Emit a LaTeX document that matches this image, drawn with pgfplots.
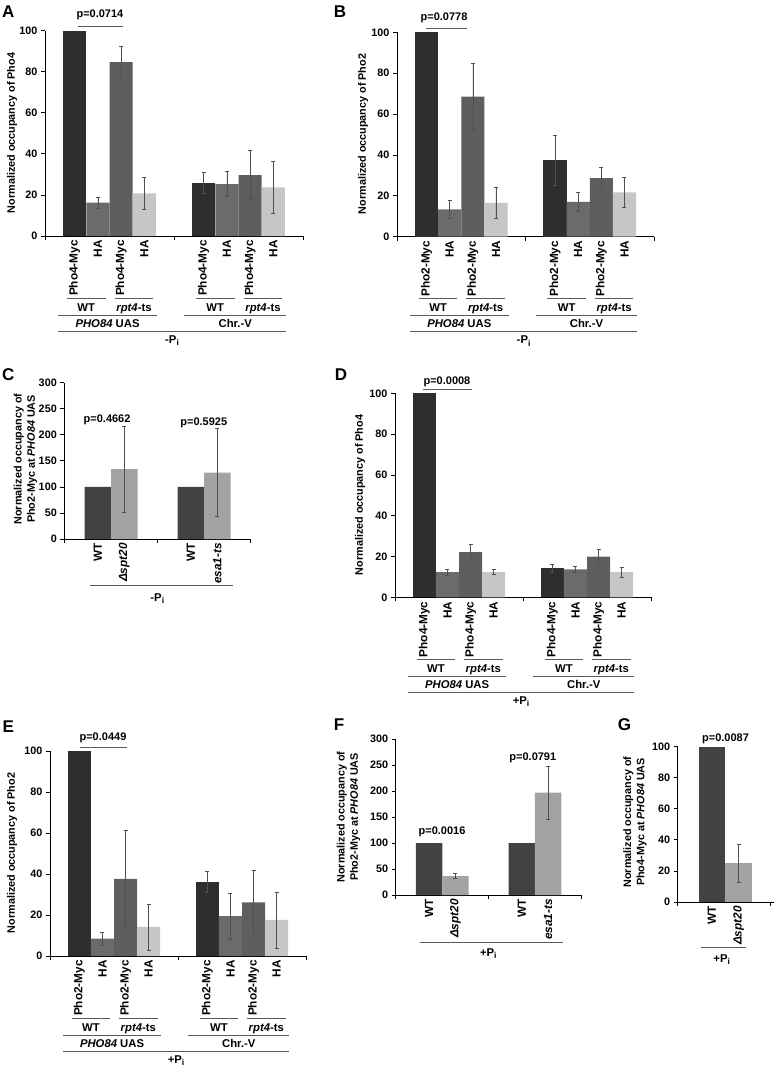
\documentclass[border=0pt]{standalone}
\usepackage{fontspec}
\setmainfont{Liberation Sans}
\usepackage{pgfplots}
\pgfplotsset{compat=1.18}

\definecolor{cdark}{HTML}{2E2E2E}
\definecolor{cmid}{HTML}{6B6B6B}
\definecolor{cmd}{HTML}{5E5E5E}
\definecolor{clight}{HTML}{C6C6C6}
\definecolor{cwt}{HTML}{424242}
\definecolor{cmut}{HTML}{A3A3A3}
\definecolor{errc}{HTML}{505050}
\definecolor{annc}{HTML}{5A5A5A}

\newcommand{\tickf}{\fontsize{10.8}{12}\selectfont\bfseries}
\newcommand{\labf}{\fontsize{10.8}{13.3}\selectfont\bfseries}
\newcommand{\catf}{\fontsize{11.8}{12}\selectfont\bfseries}
\newcommand{\grpf}{\fontsize{11.3}{12}\selectfont\bfseries}
\newcommand{\pf}{\fontsize{11}{12}\selectfont\bfseries}
\newcommand{\letf}{\fontsize{17}{18}\selectfont\bfseries}
\newcommand{\Pcond}[1]{#1P\raisebox{-0.45ex}{\fontsize{8.5}{9}\selectfont i}}

\newcommand{\catlab}[2]{\node[rotate=90,anchor=east,inner sep=0pt,font=\catf] at ([yshift=-4pt]axis cs:#1,0) {#2};}
\newcommand{\hl}[3]{\draw[annot] ([yshift=-#3pt]axis cs:#1,0) -- ([yshift=-#3pt]axis cs:#2,0);}
\newcommand{\tl}[3]{\node[font=\grpf,inner sep=0pt,anchor=base] at ([yshift=-#2pt-4pt]axis cs:#1,0) {#3};}

\newcommand{\eightlabels}[2]{%
 \catlab{0.23}{#1-Myc}\catlab{0.41}{HA}\catlab{0.59}{#1-Myc}\catlab{0.77}{HA}%
 \catlab{1.23}{#1-Myc}\catlab{1.41}{HA}\catlab{1.59}{#1-Myc}\catlab{1.77}{HA}%
 \hl{0.17}{0.47}{62}\hl{0.54}{0.84}{62}\hl{1.17}{1.47}{62}\hl{1.54}{1.84}{62}%
 \tl{0.32}{71}{WT}\tl{0.69}{71}{\textit{rpt4}-ts}\tl{1.32}{71}{WT}\tl{1.69}{71}{\textit{rpt4}-ts}%
 \hl{0.10}{0.87}{79}\hl{1.08}{1.87}{79}%
 \tl{0.485}{87}{\textit{PHO84} UAS}\tl{1.475}{87}{Chr.-V}%
 \hl{0.10}{1.87}{95}%
 \tl{0.985}{103}{\Pcond{#2}}}

\tikzset{annot/.style={draw=annc,line width=0.9pt}}

\pgfplotsset{
 panel/.style={scale only axis, anchor=south west, clip=false,
   axis lines*=left, axis line style={-, line width=0.9pt, black},
   tick align=outside, major tick length=4pt, tick style={line width=0.8pt, black},
   ymin=0, xmin=0, xtick={0,1,2}, xticklabel={\relax},
   /pgf/number format/assume math mode=true,
   yticklabel={\pgfmathprintnumber{\tick}},
   yticklabel style={font=\tickf}},
 eb/.style={/pgfplots/error bars/y dir=both, /pgfplots/error bars/y explicit,
   /pgfplots/error bars/error bar style={line width=0.55pt, errc},
   /pgfplots/error bars/error mark options={rotate=90, mark size=2pt, line width=0.55pt, errc}},
 bb/.style={ybar, bar shift=0pt, draw=none, fill=#1},
}

\begin{document}
\begin{tikzpicture}
\useasboundingbox (0,0) rectangle (774pt,-1069pt);

% ---------------- A ----------------
\begin{axis}[panel, at={(45pt,-236pt)}, width=258pt, height=205.3pt, xmax=2, ymax=100, ytick={0,20,...,100}]
\addplot[bb=cdark, bar width=0.18] coordinates {(0.23,100)};
\addplot[bb=cdark, bar width=0.18, eb] coordinates {(1.23,26.0) +- (0,5.0)};
\addplot[bb=cmid, bar width=0.18, eb] coordinates {(0.41,16.2) +- (0,2.7) (1.41,25.3) +- (0,6.0)};
\addplot[bb=cmd, bar width=0.18, eb] coordinates {(0.59,84.7) +- (0,7.5) (1.59,29.7) +- (0,11.9)};
\addplot[bb=clight, bar width=0.18, eb] coordinates {(0.77,20.8) +- (0,7.7) (1.77,23.7) +- (0,12.6)};
\eightlabels{Pho4}{-}
\draw[annot] ([yshift=4pt]axis cs:0.256,100) -- ([yshift=4pt]axis cs:0.605,100);
\node[font=\pf] at ([yshift=15.5pt]axis cs:0.426,100) {p=0.0714};
\end{axis}

% ---------------- B ----------------
\begin{axis}[panel, at={(397pt,-236.7pt)}, width=257pt, height=204.4pt, xmax=2, ymax=100, ytick={0,20,...,100}]
\addplot[bb=cdark, bar width=0.18] coordinates {(0.23,100)};
\addplot[bb=cdark, bar width=0.18, eb] coordinates {(1.23,37.4) +- (0,12.3)};
\addplot[bb=cmid, bar width=0.18, eb] coordinates {(0.41,13.4) +- (0,4.5) (1.41,17.0) +- (0,4.7)};
\addplot[bb=cmd, bar width=0.18, eb] coordinates {(0.59,68.5) +- (0,16.5) (1.59,28.7) +- (0,5.2)};
\addplot[bb=clight, bar width=0.18, eb] coordinates {(0.77,16.5) +- (0,7.6) (1.77,21.7) +- (0,7.3)};
\eightlabels{Pho2}{-}
\draw[annot] ([yshift=4pt]axis cs:0.226,100) -- ([yshift=4pt]axis cs:0.545,100);
\node[font=\pf] at ([yshift=15pt]axis cs:0.366,100) {p=0.0778};
\end{axis}

% ---------------- C ----------------
\begin{axis}[panel, at={(64.3pt,-539pt)}, width=186pt, height=156.3pt, xmax=2, ymax=300, ytick={0,50,...,300}]
\addplot[bb=cwt, bar width=0.285] coordinates {(0.36,100) (1.36,100)};
\addplot[bb=cmut, bar width=0.285, eb] coordinates {(0.645,134) +- (0,82) (1.645,127.5) +- (0,84.5)};
\catlab{0.36}{WT}\catlab{0.645}{\textit{Δspt20}}\catlab{1.36}{WT}\catlab{1.645}{\textit{esa1-ts}}
\hl{0.277}{1.81}{46}
\tl{1.0}{58}{\Pcond{-}}
\node[font=\pf] at (axis cs:0.46,228) {p=0.4662};
\node[font=\pf] at (axis cs:1.50,222.6) {p=0.5925};
\end{axis}

% ---------------- D ----------------
\begin{axis}[panel, at={(395pt,-597.3pt)}, width=256pt, height=204pt, xmax=2, ymax=100, ytick={0,20,...,100}]
\addplot[bb=cdark, bar width=0.18] coordinates {(0.23,100)};
\addplot[bb=cdark, bar width=0.18, eb] coordinates {(1.23,14.2) +- (0,2.1)};
\addplot[bb=cmid, bar width=0.18, eb] coordinates {(0.41,12.4) +- (0,1.4) (1.41,13.7) +- (0,1.3)};
\addplot[bb=cmd, bar width=0.18, eb] coordinates {(0.59,22.2) +- (0,3.8) (1.59,19.9) +- (0,3.8)};
\addplot[bb=clight, bar width=0.18, eb] coordinates {(0.77,12.3) +- (0,1.2) (1.77,12.3) +- (0,2.5)};
\eightlabels{Pho4}{+}
\draw[annot] ([yshift=3.5pt]axis cs:0.219,100) -- ([yshift=3.5pt]axis cs:0.602,100);
\node[font=\pf] at ([yshift=11.5pt]axis cs:0.406,100) {p=0.0008};
\end{axis}

% ---------------- E ----------------
\begin{axis}[panel, at={(50pt,-956pt)}, width=256pt, height=205pt, xmax=2, ymax=100, ytick={0,20,...,100}]
\addplot[bb=cdark, bar width=0.18] coordinates {(0.23,100)};
\addplot[bb=cdark, bar width=0.18, eb] coordinates {(1.23,36.0) +- (0,5.1)};
\addplot[bb=cmid, bar width=0.18, eb] coordinates {(0.41,8.5) +- (0,3.3) (1.41,19.5) +- (0,11.1)};
\addplot[bb=cmd, bar width=0.18, eb] coordinates {(0.59,37.6) +- (0,23.6) (1.59,26.2) +- (0,15.6)};
\addplot[bb=clight, bar width=0.18, eb] coordinates {(0.77,14.2) +- (0,11.2) (1.77,17.6) +- (0,13.7)};
\eightlabels{Pho2}{+}
\draw[annot] ([yshift=4pt]axis cs:0.234,100) -- ([yshift=4pt]axis cs:0.602,100);
\node[font=\pf] at ([yshift=13pt]axis cs:0.414,100) {p=0.0449};
\end{axis}

% ---------------- F ----------------
\begin{axis}[panel, at={(395.7pt,-895pt)}, width=185.3pt, height=156pt, xmax=2, ymax=300, ytick={0,50,...,300}]
\addplot[bb=cwt, bar width=0.285] coordinates {(0.36,100) (1.36,100)};
\addplot[bb=cmut, bar width=0.285, eb] coordinates {(0.645,36.5) +- (0,4.8) (1.645,197) +- (0,50.6)};
\catlab{0.36}{WT}\catlab{0.645}{\textit{Δspt20}}\catlab{1.36}{WT}\catlab{1.645}{\textit{esa1-ts}}
\hl{0.26}{1.81}{47}
\tl{1.0}{57}{\Pcond{+}}
\node[font=\pf] at (axis cs:0.50,121) {p=0.0016};
\node[font=\pf] at (axis cs:1.48,263.5) {p=0.0791};
\end{axis}

% ---------------- G ----------------
\begin{axis}[panel, at={(677.7pt,-902pt)}, width=96.3pt, height=155.3pt, xmax=1.035, ymax=100, ytick={0,20,...,100}, xtick={0,1}]
\addplot[bb=cwt, bar width=0.285] coordinates {(0.367,100)};
\addplot[bb=cmut, bar width=0.285, eb] coordinates {(0.655,25) +- (0,12.3)};
\catlab{0.367}{WT}\catlab{0.655}{\textit{Δspt20}}
\hl{0.247}{0.735}{45}
\tl{0.473}{56}{\Pcond{+}}
\node[font=\pf] at (axis cs:0.514,105) {p=0.0087};
\end{axis}

% ---------------- y labels and panel letters ----------------
\node[rotate=90,font=\labf] at (12pt,-133pt) {Normalized occupancy of Pho4};
\node[rotate=90,font=\labf] at (363pt,-134pt) {Normalized occupancy of Pho2};
\node[rotate=90,font=\labf,align=center] at (25.5pt,-459pt) {Normalized occupancy of\\Pho2-Myc at \textit{PHO84} UAS};
\node[rotate=90,font=\labf] at (360pt,-495pt) {Normalized occupancy of Pho4};
\node[rotate=90,font=\labf] at (12pt,-853pt) {Normalized occupancy of Pho2};
\node[rotate=90,font=\labf,align=center] at (348.5pt,-817pt) {Normalized occupancy of\\Pho2-Myc at \textit{PHO84} UAS};
\node[rotate=90,font=\labf,align=center] at (635pt,-822pt) {Normalized occupancy of\\Pho4-Myc at \textit{PHO84} UAS};

\node[font=\letf] at (8.3pt,-11.7pt) {A};
\node[font=\letf] at (340pt,-11.7pt) {B};
\node[font=\letf] at (8.3pt,-375pt) {C};
\node[font=\letf] at (341pt,-375pt) {D};
\node[font=\letf] at (8.3pt,-727pt) {E};
\node[font=\letf] at (339pt,-725pt) {F};
\node[font=\letf] at (624.5pt,-725pt) {G};
\end{tikzpicture}
\end{document}
